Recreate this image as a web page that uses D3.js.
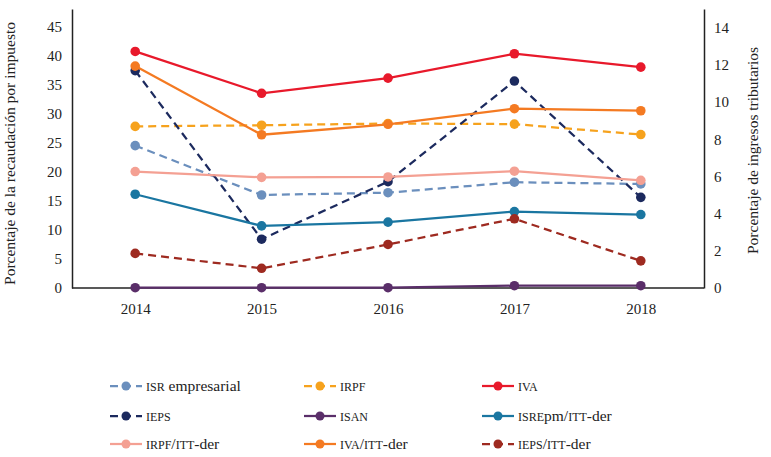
<!DOCTYPE html>
<html>
<head>
<meta charset="utf-8">
<script src="https://cdnjs.cloudflare.com/ajax/libs/d3/7.8.5/d3.min.js"></script>
<style>
  html, body { margin: 0; padding: 0; background: #fff; }
  #chart { width: 771px; height: 457px; }
</style>
</head>
<body>
<div id="chart"></div>
<script>
// years on the x axis
const years = ["2014", "2015", "2016", "2017", "2018"];

// left axis series (% of collection per tax)
const isrEmpresarial = [24.5, 16.0, 16.4, 18.2, 17.9];
const irpf = [27.8, 28.0, 28.3, 28.2, 26.4];
const iva = [40.7, 33.5, 36.1, 40.3, 38.0];
const ieps = [37.4, 8.4, 18.3, 35.6, 15.6];
const isan = [0.05, 0.05, 0.05, 0.4, 0.4];

// right axis series (% of tax revenue)
const isrepmItt = [5.04, 3.34, 3.54, 4.11, 3.95];
const irpfItt = [6.26, 5.95, 5.97, 6.28, 5.79];
const ivaItt = [11.93, 8.24, 8.80, 9.64, 9.53];
const iepsItt = [1.86, 1.06, 2.34, 3.72, 1.46];

const leftTicks = [0, 5, 10, 15, 20, 25, 30, 35, 40, 45];
const rightTicks = [0, 2, 4, 6, 8, 10, 12, 14];

// name parts: [text, smallcaps?]
const series = [
  { label: [["ISR", true], [" empresarial", false]], values: isrEmpresarial, axis: "left", color: "#6b8fbd", dashed: true },
  { label: [["IRPF", true]], values: irpf, axis: "left", color: "#f6a21d", dashed: true },
  { label: [["IVA", true]], values: iva, axis: "left", color: "#e8192b", dashed: false },
  { label: [["IEPS", true]], values: ieps, axis: "left", color: "#1c2a5e", dashed: true },
  { label: [["ISAN", true]], values: isan, axis: "left", color: "#5a2e69", dashed: false },
  { label: [["ISRE", true], ["pm/", false], ["ITT", true], ["-der", false]], values: isrepmItt, axis: "right", color: "#1a76a1", dashed: false },
  { label: [["IRPF", true], ["/", false], ["ITT", true], ["-der", false]], values: irpfItt, axis: "right", color: "#f4a093", dashed: false },
  { label: [["IVA", true], ["/", false], ["ITT", true], ["-der", false]], values: ivaItt, axis: "right", color: "#f47a22", dashed: false },
  { label: [["IEPS", true], ["/", false], ["ITT", true], ["-der", false]], values: iepsItt, axis: "right", color: "#9e2a20", dashed: true }
];

const W = 771, H = 457;
const plot = { left: 72, right: 704, top: 9, bottom: 288 };
const SERIF = "'Liberation Serif', 'DejaVu Serif', serif";

const svg = d3.select("#chart").append("svg")
  .attr("width", W).attr("height", H);

const x = d3.scalePoint().domain(years).range([plot.left, plot.right]).padding(0.5);
const yL = d3.scaleLinear().domain([0, 48]).range([plot.bottom, plot.top]);
const yR = d3.scaleLinear().domain([0, 15]).range([plot.bottom, plot.top]);

// axes
const axL = d3.axisLeft(yL).tickValues(leftTicks).tickSize(0).tickPadding(10);
const axR = d3.axisRight(yR).tickValues(rightTicks).tickSize(0).tickPadding(10);
const axB = d3.axisBottom(x).tickSize(0).tickPadding(15);

function styleAxis(g) {
  g.attr("font-family", SERIF).attr("font-size", 15);
  g.select(".domain").attr("stroke", "#222").attr("stroke-width", 1.5);
  g.selectAll("text").style("font-family", SERIF).style("font-size", "15px").attr("fill", "#222");
}

svg.append("g").attr("transform", `translate(${plot.left},0)`).call(axL).call(styleAxis);
svg.append("g").attr("transform", `translate(${plot.right},0)`).call(axR).call(styleAxis);
svg.append("g").attr("transform", `translate(0,${plot.bottom})`).call(axB).call(styleAxis)
  .select(".domain").attr("d", `M${plot.left},0H${plot.right}`);

// axis titles
svg.append("text")
  .attr("transform", `translate(15,${(plot.top + plot.bottom) / 2 + 5}) rotate(-90)`)
  .attr("text-anchor", "middle").style("font-family", SERIF).style("font-size", "15.5px").attr("fill", "#222")
  .text("Porcentaje de la recaudación por impuesto");
svg.append("text")
  .attr("transform", `translate(758,${(plot.top + plot.bottom) / 2 + 2}) rotate(-90)`)
  .attr("text-anchor", "middle").style("font-family", SERIF).style("font-size", "15.5px").attr("fill", "#222")
  .text("Porcentaje de ingresos tributarios");

// lines + markers
series.forEach(s => {
  const y = s.axis === "left" ? yL : yR;
  const line = d3.line().x((d, i) => x(years[i])).y(d => y(d));
  svg.append("path")
    .datum(s.values)
    .attr("d", line)
    .attr("fill", "none")
    .attr("stroke", s.color)
    .attr("stroke-width", 2.25)
    .attr("stroke-dasharray", s.dashed ? "8,5" : null);
  svg.append("g").selectAll("circle")
    .data(s.values)
    .join("circle")
    .attr("cx", (d, i) => x(years[i]))
    .attr("cy", d => y(d))
    .attr("r", 4.8)
    .attr("fill", s.color);
});

// legend
const colX = [110, 304, 482];
const rowY = [386, 416, 444];
series.forEach((s, i) => {
  const gx = colX[i % 3], gy = rowY[Math.floor(i / 3)];
  const g = svg.append("g").attr("transform", `translate(${gx},${gy})`);
  g.append("line")
    .attr("x1", 0).attr("x2", 32).attr("y1", 0).attr("y2", 0)
    .attr("stroke", s.color).attr("stroke-width", 2.25)
    .attr("stroke-dasharray", s.dashed ? "8,5" : null);
  g.append("circle").attr("cx", 16).attr("cy", 0).attr("r", 4.5).attr("fill", s.color);
  const t = g.append("text").attr("x", 36).attr("y", 5)
    .style("font-family", SERIF).style("font-size", "15.5px").attr("fill", "#222");
  s.label.forEach(([txt, sc]) => {
    t.append("tspan").style("font-family", SERIF).style("font-size", sc ? "12px" : "15.5px").text(txt);
  });
});
</script>
</body>
</html>
